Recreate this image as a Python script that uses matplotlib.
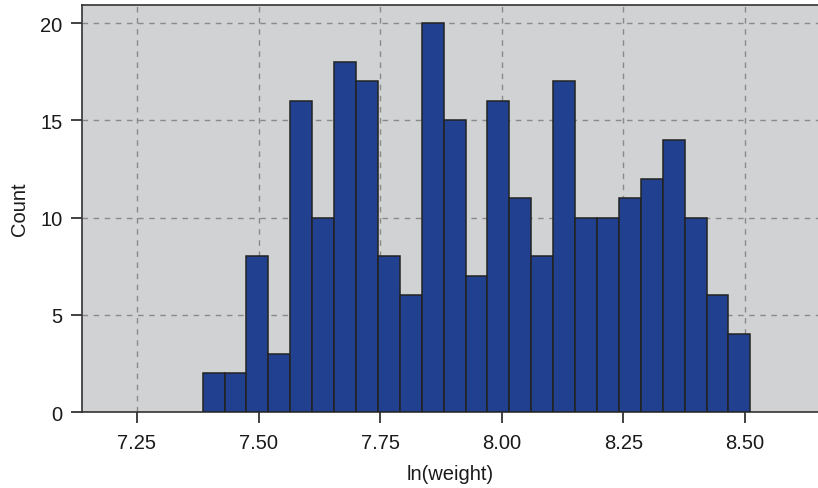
import numpy as np
import matplotlib.pyplot as plt

plt.rcParams['font.family'] = ['Liberation Sans', 'DejaVu Sans']

# histogram of ln(weight): 25 equal bins
bin_start = 7.385
bin_stop = 8.511
counts = [2, 2, 8, 3, 16, 10, 18, 17, 8, 6, 20, 15, 7,
          16, 11, 8, 17, 10, 10, 11, 12, 14, 10, 6, 4]
x_ticks = [7.25, 7.50, 7.75, 8.00, 8.25, 8.50]
y_ticks = [0, 5, 10, 15, 20]

edges = np.linspace(bin_start, bin_stop, len(counts) + 1)

fig = plt.figure(figsize=(8.18, 4.89), dpi=100)
ax = fig.add_axes([0.1002, 0.1554, 0.9010, 0.8323])
ax.set_facecolor('#d1d2d4')

ax.bar(edges[:-1], counts, width=np.diff(edges), align='edge',
       color='#21408f', edgecolor='#222222', linewidth=1.1, zorder=3)

ax.set_xlim(7.137, 8.652)
ax.set_ylim(0, 20.93)
ax.set_xticks(x_ticks)
ax.set_xticklabels([f'{v:.2f}' for v in x_ticks])
ax.set_yticks(y_ticks)

ax.grid(True, color='#8a8a8a', linestyle=(0, (4, 4)), linewidth=1.0, zorder=0)
ax.set_axisbelow(True)

ax.spines['right'].set_visible(False)
for side in ['left', 'top', 'bottom']:
    ax.spines[side].set_color('#333333')
    ax.spines[side].set_linewidth(1.2)

ax.tick_params(axis='both', direction='out', length=8, width=1.3,
               color='#333333', labelsize=14.5, labelcolor='#1a1a1a')
ax.tick_params(axis='x', pad=7)
ax.tick_params(axis='y', pad=6)

ax.set_xlabel('ln(weight)', fontsize=14.5, color='#1a1a1a', labelpad=9)
ax.set_ylabel('Count', fontsize=14.5, color='#1a1a1a', labelpad=8)

fig.savefig('out.png', dpi=100, facecolor='white')
